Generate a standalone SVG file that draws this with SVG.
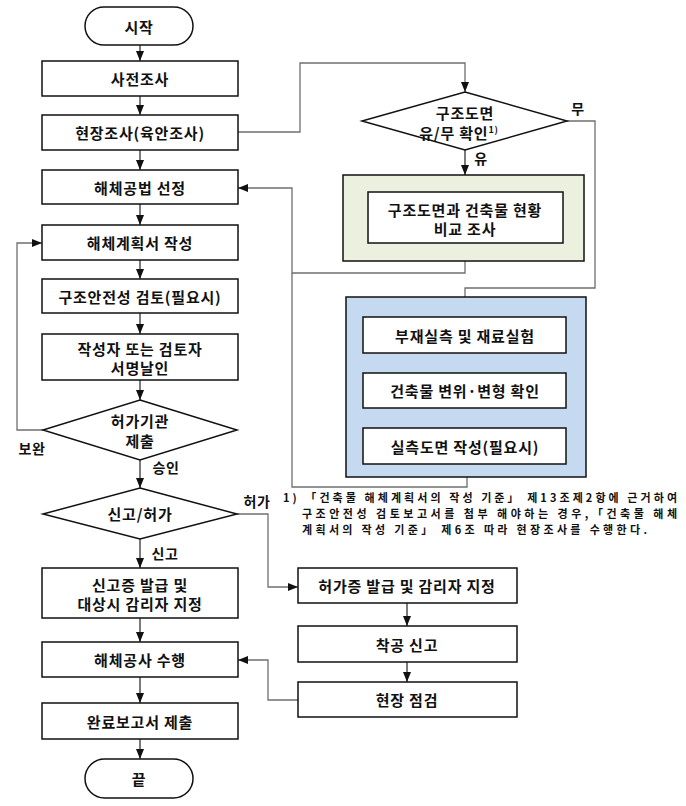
<svg xmlns="http://www.w3.org/2000/svg" width="686" height="806" viewBox="0 0 686 806">
<defs>
<marker id="arr" markerUnits="userSpaceOnUse" markerWidth="10" markerHeight="10" viewBox="0 0 10 10" refX="10" refY="5" orient="auto">
<path d="M0,1 L10,5 L0,9 Z" fill="#111"/>
</marker>
</defs>
<style>
.box{fill:#fff;stroke:#111;stroke-width:1.5}
.t{font-family:"Noto Sans CJK KR","Noto Sans",sans-serif;font-weight:bold;font-size:15px;letter-spacing:0.8px;fill:#111;text-anchor:middle;dominant-baseline:central}
.lbl{font-family:"Noto Sans CJK KR","Noto Sans",sans-serif;font-weight:bold;font-size:14px;letter-spacing:0.5px;fill:#111;text-anchor:middle;dominant-baseline:central}
.fn{font-family:"Noto Sans CJK KR","Noto Sans",sans-serif;font-weight:bold;font-size:11px;fill:#111}
.c{fill:none;stroke:#333;stroke-width:1.3}
.g{fill:none;stroke:#6f6f6f;stroke-width:1.3}
</style>
<rect width="686" height="806" fill="#fff"/>

<g id="connectors">
<path class="c" d="M140,45 V61" marker-end="url(#arr)"/>
<path class="c" d="M140,96 V115" marker-end="url(#arr)"/>
<path class="c" d="M140,150 V170" marker-end="url(#arr)"/>
<path class="c" d="M140,204 V225" marker-end="url(#arr)"/>
<path class="c" d="M140,260 V279" marker-end="url(#arr)"/>
<path class="c" d="M140,313 V334" marker-end="url(#arr)"/>
<path class="c" d="M140,380 V400" marker-end="url(#arr)"/>
<path class="c" d="M140,460 V488" marker-end="url(#arr)"/>
<path class="c" d="M140,539 V568" marker-end="url(#arr)"/>
<path class="c" d="M140,618 V642" marker-end="url(#arr)"/>
<path class="c" d="M140,677 V703" marker-end="url(#arr)"/>
<path class="c" d="M140,739 V759" marker-end="url(#arr)"/>
<path class="g" d="M43,430 H17 V243 H42" marker-end="url(#arr)"/>
<path class="g" d="M238,132 H300 V63 H465 V92" marker-end="url(#arr)"/>
<path class="c" d="M465,150 V175" marker-end="url(#arr)"/>
<path class="g" d="M567,121 H595 V288 H465 V317" marker-end="url(#arr)"/>
<path class="c" d="M465,353 V373" marker-end="url(#arr)"/>
<path class="c" d="M465,408 V428" marker-end="url(#arr)"/>
<path class="g" d="M465,261 V273 H292 V188 H238" marker-end="url(#arr)"/>
<path class="g" d="M467,477 V487 H292 V273"/>
<path class="g" d="M237,514 H268 V587 H298" marker-end="url(#arr)"/>
<path class="c" d="M407,603 V626" marker-end="url(#arr)"/>
<path class="c" d="M407,662 V682" marker-end="url(#arr)"/>
<path class="g" d="M298,700 H268 V660 H238" marker-end="url(#arr)"/>
</g>

<g id="start"><rect class="box" x="85" y="7" width="108" height="38" rx="19"/><text class="t" x="139" y="26">시작</text></g>
<g id="prelim"><rect class="box" x="42" y="61" width="196" height="35"/><text class="t" x="140" y="78.5">사전조사</text></g>
<g id="site"><rect class="box" x="42" y="115" width="196" height="35"/><text class="t" x="140" y="132.5">현장조사(육안조사)</text></g>
<g id="method"><rect class="box" x="42" y="170" width="196" height="34"/><text class="t" x="140" y="187">해체공법 선정</text></g>
<g id="plan"><rect class="box" x="42" y="225" width="196" height="35"/><text class="t" x="140" y="242.5">해체계획서 작성</text></g>
<g id="safety"><rect class="box" x="42" y="279" width="196" height="34"/><text class="t" x="140" y="296">구조안전성 검토(필요시)</text></g>
<g id="sign"><rect class="box" x="42" y="334" width="196" height="46"/><text class="t" x="140" y="348">작성자 또는 검토자</text><text class="t" x="140" y="367">서명날인</text></g>
<g id="submit"><polygon class="box" points="140,400 237,430 140,460 43,430"/><text class="t" x="140" y="420">허가기관</text><text class="t" x="140" y="440">제출</text></g>
<g id="decide"><polygon class="box" points="140,488 237,514 140,539 43,514"/><text class="t" x="140" y="513">신고/허가</text></g>
<g id="report"><rect class="box" x="42" y="568" width="196" height="50"/><text class="t" x="140" y="584">신고증 발급 및</text><text class="t" x="140" y="603">대상시 감리자 지정</text></g>
<g id="work"><rect class="box" x="42" y="642" width="196" height="35"/><text class="t" x="140" y="659.5">해체공사 수행</text></g>
<g id="complete"><rect class="box" x="42" y="703" width="196" height="36"/><text class="t" x="140" y="721">완료보고서 제출</text></g>
<g id="end"><rect class="box" x="85" y="759" width="108" height="39" rx="19.5"/><text class="t" x="139" y="778.5">끝</text></g>

<g id="drawing-check"><polygon class="box" points="465,92 567,121 465,150 362,121"/><text class="t" x="465" y="112">구조도면</text><text class="t" x="459" y="132">유/무 확인<tspan font-size="9" dy="-3">1)</tspan></text></g>
<g id="green-group"><rect x="343" y="175" width="241" height="86" fill="#ebf1de" stroke="#111" stroke-width="1.5"/>
<rect class="box" x="368" y="192" width="195" height="51"/><text class="t" x="465" y="209">구조도면과 건축물 현황</text><text class="t" x="465" y="228">비교 조사</text></g>
<g id="blue-group"><rect x="346" y="297" width="240" height="180" fill="#c5d9f1" stroke="#111" stroke-width="1.5"/>
<g id="measure"><rect class="box" x="363" y="317" width="203" height="36"/><text class="t" x="465" y="335">부재실측 및 재료실험</text></g>
<g id="deform"><rect class="box" x="363" y="373" width="203" height="35"/><text class="t" x="465" y="390.5">건축물 변위·변형 확인</text></g>
<g id="asbuilt"><rect class="box" x="363" y="428" width="203" height="36"/><text class="t" x="465" y="446">실측도면 작성(필요시)</text></g>
</g>
<g id="permit"><rect class="box" x="298" y="568" width="219" height="35"/><text class="t" x="407" y="585.5">허가증 발급 및 감리자 지정</text></g>
<g id="start-notice"><rect class="box" x="298" y="626" width="219" height="36"/><text class="t" x="407" y="644">착공 신고</text></g>
<g id="inspect"><rect class="box" x="298" y="682" width="219" height="35"/><text class="t" x="407" y="699.5">현장 점검</text></g>

<g id="labels">
<text class="lbl" x="32" y="448">보완</text>
<text class="lbl" x="166" y="467">승인</text>
<text class="lbl" x="257" y="501">허가</text>
<text class="lbl" x="165" y="553">신고</text>
<text class="lbl" x="578" y="108">무</text>
<text class="lbl" x="481" y="158">유</text>
</g>
<g id="footnote">
<text class="fn" x="283" y="502" textLength="394" lengthAdjust="spacing">1) 「건축물 해체계획서의 작성 기준」 제13조제2항에 근거하여</text>
<text class="fn" x="302" y="518" textLength="375" lengthAdjust="spacing">구조안전성 검토보고서를 첨부 해야하는 경우,「건축물 해체</text>
<text class="fn" x="302" y="534" textLength="345" lengthAdjust="spacing">계획서의 작성 기준」 제6조 따라 현장조사를 수행한다.</text>
</g>
</svg>
